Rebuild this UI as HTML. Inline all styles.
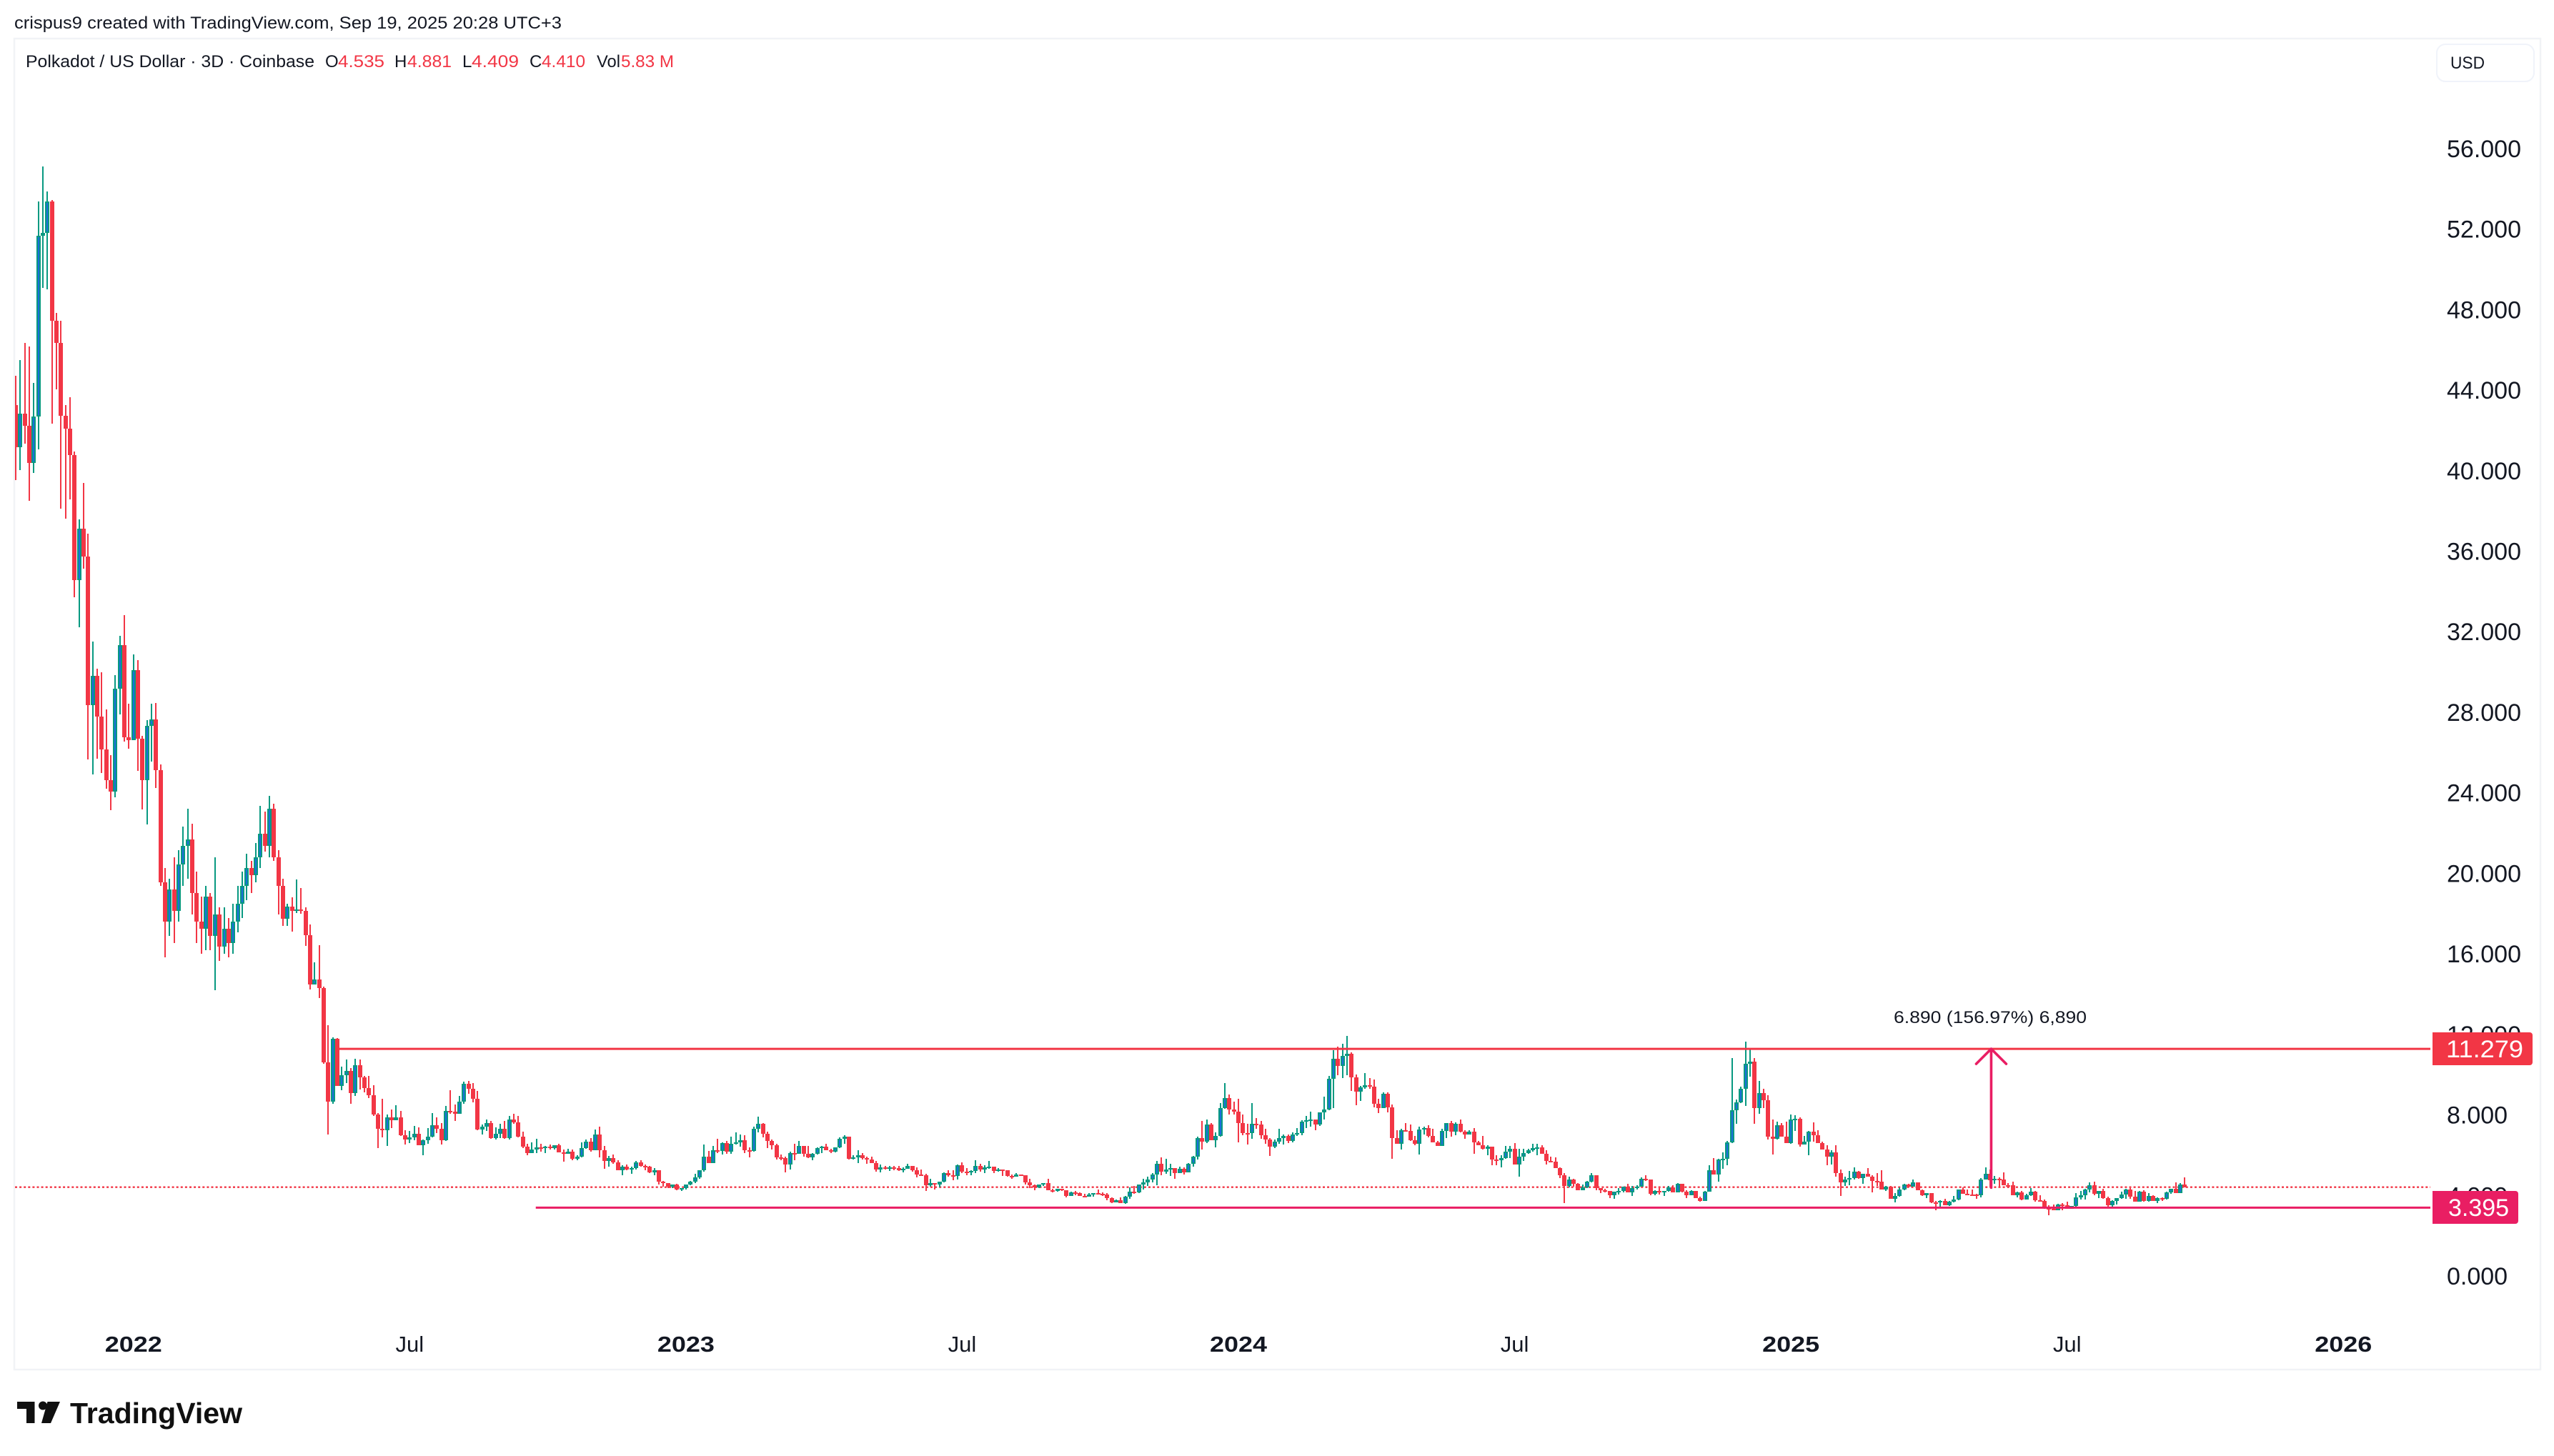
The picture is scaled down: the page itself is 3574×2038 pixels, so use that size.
<!DOCTYPE html>
<html lang="en">
<head>
<meta charset="utf-8">
<title>Polkadot / US Dollar chart</title>
<style>
html,body{margin:0;padding:0;background:#fff;width:3574px;height:2038px;overflow:hidden}
svg{display:block;font-family:"Liberation Sans",Arial,sans-serif}
</style>
</head>
<body>
<svg id="chart" xmlns="http://www.w3.org/2000/svg" width="3574" height="2038" viewBox="0 0 3574 2038">
<defs><clipPath id="plot-clip"><rect x="21" y="55" width="3380" height="1861"/></clipPath></defs>
<rect x="0" y="0" width="3574" height="2038" fill="#ffffff"/>
<text x="20" y="40" font-size="24" fill="#131722" textLength="766" lengthAdjust="spacingAndGlyphs">crispus9 created with TradingView.com, Sep 19, 2025 20:28 UTC+3</text>
<rect x="20" y="54" width="3535" height="1863" fill="none" stroke="#f1f3f6" stroke-width="2.5"/>

<g font-size="24">
<text x="36" y="94" fill="#131722" textLength="404" lengthAdjust="spacingAndGlyphs">Polkadot / US Dollar · 3D · Coinbase</text>
<text x="455" y="94" fill="#131722">O</text>
<text x="473" y="94" fill="#F23645" textLength="65" lengthAdjust="spacingAndGlyphs">4.535</text>
<text x="552" y="94" fill="#131722">H</text>
<text x="570" y="94" fill="#F23645" textLength="62" lengthAdjust="spacingAndGlyphs">4.881</text>
<text x="647" y="94" fill="#131722">L</text>
<text x="660" y="94" fill="#F23645" textLength="66" lengthAdjust="spacingAndGlyphs">4.409</text>
<text x="741" y="94" fill="#131722">C</text>
<text x="758" y="94" fill="#F23645" textLength="61" lengthAdjust="spacingAndGlyphs">4.410</text>
<text x="835" y="94" fill="#131722" textLength="33" lengthAdjust="spacingAndGlyphs">Vol</text>
<text x="869" y="94" fill="#F23645" textLength="74" lengthAdjust="spacingAndGlyphs">5.83 M</text>
</g>

<g>
<rect x="3410" y="62" width="136" height="52" rx="12" fill="#ffffff" stroke="#f0f3fa" stroke-width="2"/>
<text x="3429" y="96" font-size="24" fill="#131722" textLength="48" lengthAdjust="spacingAndGlyphs">USD</text>
</g>

<g id="price-axis"></g>
<g id="time-axis"></g>

<g id="plot" clip-path="url(#plot-clip)">
<line id="last-price-line" stroke="#F23645" stroke-width="2.4" stroke-dasharray="3 3.1"/>
<g id="candles" shape-rendering="crispEdges"></g>
<line id="resistance-line" stroke="#F23645" stroke-width="3"/>
<line id="support-line" stroke="#E91E63" stroke-width="3"/>
<g fill="none" stroke="#E91E63" stroke-width="3.6" stroke-linecap="round" stroke-linejoin="round">
<line id="arrow-shaft"/>
<polyline id="arrow-head"/>
</g>
</g>
<text x="2650" y="1432" font-size="24" fill="#131722" textLength="270" lengthAdjust="spacingAndGlyphs">6.890 (156.97%) 6,890</text>

<g>
<path d="M3404 1445H3540a4 4 0 0 1 4 4V1487a4 4 0 0 1 -4 4H3404Z" fill="#F23645"/>
<text x="3423" y="1480" font-size="34" fill="#ffffff" textLength="108" lengthAdjust="spacingAndGlyphs">11.279</text>
</g>
<g>
<path d="M3404 1667H3520a4 4 0 0 1 4 4V1709a4 4 0 0 1 -4 4H3404Z" fill="#E91E63"/>
<text x="3426" y="1702" font-size="34" fill="#ffffff">3.395</text>
</g>

<g fill="#101010">
<path d="M24 1962H48.5V1992H37V1972H24Z"/>
<circle cx="60" cy="1967.5" r="6"/>
<path d="M66.500 1962H84L71 1992H58Z"/>
<text x="98" y="1992" font-size="41" font-weight="700" textLength="241" lengthAdjust="spacingAndGlyphs">TradingView</text>
</g>
</svg>

<script>
const firstOpen = 43.26;
const closes = [
41.16,42.83,42.23,40.39,42.69,51.67,51.82,53.38,47.45,46.35,
42.73,42.09,40.78,34.57,37.12,35.74,28.36,29.81,27.79,26.16,
24.63,24.06,29.17,31.34,26.76,26.62,30.10,26.69,24.63,27.33,
27.65,25.13,19.55,17.60,19.20,18.14,20.44,21.36,21.68,19.02,
17.60,17.25,18.84,16.89,17.96,16.36,17.25,16.54,17.60,18.49,
19.38,20.26,19.91,20.80,21.97,21.36,23.21,20.80,19.38,17.75,
18.35,18.14,18.21,18.14,16.93,14.48,14.73,14.30,10.61,8.66,
11.78,9.44,9.97,10.19,9.09,10.47,9.87,9.33,8.98,8.02,
7.31,7.24,7.88,7.74,7.88,6.99,6.78,6.89,7.06,6.49,
6.74,6.92,7.49,7.31,6.74,8.20,8.16,8.06,8.66,9.55,
9.30,8.80,7.28,7.42,7.59,6.85,7.06,7.31,6.85,7.77,
7.63,6.92,6.42,6.10,6.28,6.39,6.35,6.42,6.35,6.49,
6.14,6.07,6.18,5.82,5.93,6.35,6.67,6.25,7.03,6.25,
5.71,5.86,5.64,5.25,5.43,5.29,5.36,5.64,5.47,5.44,
5.15,5.25,4.68,4.61,4.44,4.54,4.29,4.37,4.54,4.68,
4.90,5.25,5.93,5.61,6.25,6.21,6.60,6.18,6.57,6.64,
6.74,6.25,6.21,7.31,7.56,7.06,6.71,6.49,5.89,5.86,
5.54,6.10,6.07,6.46,6.07,5.89,6.07,6.35,6.42,6.25,
6.18,6.39,6.81,6.92,5.82,5.89,6.00,5.86,5.78,5.61,
5.29,5.39,5.32,5.39,5.36,5.25,5.32,5.47,5.25,5.04,
5.02,4.51,4.61,4.54,4.68,5.11,5.00,4.96,5.50,5.18,
5.15,5.22,5.47,5.29,5.39,5.43,5.22,5.29,5.25,4.97,
4.95,5.04,5.00,4.65,4.51,4.40,4.54,4.61,4.26,4.24,
4.33,4.26,3.97,4.15,4.12,3.97,3.95,4.05,4.12,4.08,
4.05,3.87,3.66,3.76,3.62,3.94,4.19,4.15,4.54,4.65,
4.79,5.04,5.57,5.18,5.29,5.36,5.11,5.32,5.15,5.57,
5.93,6.85,6.67,7.52,6.74,6.96,8.34,8.84,8.27,8.16,
7.59,7.10,7.08,7.56,7.52,6.99,6.78,6.42,6.67,6.85,
6.96,6.71,7.03,7.10,7.67,7.74,7.77,7.52,8.13,8.27,
9.80,10.79,10.43,10.93,11.04,9.87,9.16,9.37,9.48,9.40,
8.55,8.34,9.05,8.38,6.85,6.57,7.24,7.20,6.74,6.57,
7.28,7.35,6.96,6.64,6.46,7.20,7.59,7.17,7.56,7.17,
7.03,7.17,6.64,6.49,6.32,6.42,5.78,5.75,5.86,6.18,
6.32,5.54,5.93,6.10,6.25,6.35,6.39,6.07,5.71,5.69,
5.36,5.00,4.47,4.79,4.58,4.26,4.40,4.68,5.00,4.37,
4.26,4.24,4.01,4.19,4.22,4.44,4.15,4.37,4.44,4.83,
4.79,4.08,4.22,4.15,4.22,4.40,4.15,4.58,4.19,4.01,
4.22,3.87,3.73,4.19,5.25,5.04,5.78,5.82,6.64,8.23,
8.62,9.30,10.54,10.65,8.34,9.09,8.73,6.92,6.81,7.49,
6.92,6.60,7.77,7.81,6.53,6.67,7.17,6.99,6.60,6.28,
5.93,6.14,5.11,4.65,4.79,4.86,5.18,4.86,5.07,4.93,
4.72,4.68,4.29,4.44,3.83,3.97,4.29,4.54,4.44,4.65,
4.26,4.01,4.12,3.66,3.64,3.73,3.51,3.69,3.80,4.29,
4.08,4.06,4.04,4.01,4.79,5.07,4.76,4.83,4.79,4.51,
4.49,4.01,4.15,3.80,4.01,4.19,3.76,3.74,3.37,3.35,
3.27,3.55,3.53,3.34,3.48,3.90,4.01,4.29,4.51,4.08,
4.22,3.87,3.51,3.73,3.87,4.05,4.29,3.94,3.69,4.19,
3.73,3.97,3.73,3.87,3.83,4.15,4.33,4.12,4.54,4.41];
const highs = [
44.71,45.50,46.35,46.17,44.36,53.38,55.12,53.87,53.45,47.84,
47.45,43.26,43.65,40.96,37.58,39.39,36.87,31.51,30.17,29.99,
28.14,25.87,29.85,31.80,32.83,28.43,30.88,30.59,26.83,27.61,
28.43,28.46,25.41,20.26,19.73,20.80,21.15,22.32,23.21,22.46,
20.09,18.84,19.38,19.02,20.80,18.31,18.31,17.78,18.49,19.38,
20.09,20.97,20.62,21.51,23.35,23.07,23.85,23.46,21.15,19.73,
18.49,18.81,19.70,19.27,18.31,17.46,15.58,16.43,14.37,12.46,
11.85,11.82,10.40,10.75,10.33,10.79,10.75,9.94,9.94,9.48,
8.09,8.80,8.02,8.27,8.48,8.20,7.24,7.20,7.45,7.38,
6.78,7.35,8.09,7.88,7.59,8.45,9.23,8.52,8.94,9.65,
9.69,9.58,9.19,7.52,7.77,7.70,7.38,7.56,7.70,7.95,
8.06,7.95,7.17,6.57,6.64,6.81,6.57,6.45,6.53,6.49,
6.57,6.28,6.32,6.28,6.00,6.64,6.78,6.85,7.28,7.42,
6.46,5.96,6.03,5.75,5.50,5.54,5.43,5.71,5.75,5.54,
5.47,5.36,5.25,4.72,4.61,4.54,4.58,4.37,4.54,4.72,
5.07,5.25,6.53,6.21,6.46,6.81,6.64,6.71,6.92,7.13,
7.03,6.99,6.39,7.42,7.91,7.59,7.17,6.78,6.57,6.03,
5.93,6.18,6.57,6.71,6.46,6.46,6.10,6.39,6.46,6.57,
6.32,6.39,6.89,6.99,6.92,6.00,6.25,6.10,5.93,5.93,
5.71,5.54,5.47,5.47,5.47,5.47,5.39,5.57,5.47,5.39,
5.29,5.07,4.83,4.61,4.68,5.15,5.25,5.25,5.54,5.64,
5.36,5.25,5.75,5.57,5.50,5.71,5.43,5.36,5.29,5.25,
5.04,5.11,5.04,5.00,4.83,4.54,4.54,4.61,4.83,4.33,
4.33,4.33,4.26,4.19,4.22,4.15,4.08,4.12,4.12,4.29,
4.15,4.12,3.90,3.80,3.90,3.97,4.40,4.47,4.54,4.83,
4.93,5.11,5.71,5.89,5.82,5.57,5.32,5.43,5.39,5.61,
5.96,6.92,7.70,7.77,7.59,7.13,8.59,9.58,9.01,8.66,
8.80,8.02,7.56,8.59,7.84,7.70,7.31,6.85,6.78,7.31,
7.03,7.03,7.13,7.35,7.74,7.95,8.16,7.74,8.13,8.91,
9.94,11.21,11.39,11.53,11.92,11.11,10.01,9.44,10.08,9.83,
9.76,8.80,9.12,9.12,8.52,7.24,7.31,7.59,7.52,6.96,
7.42,7.42,7.49,7.31,6.71,7.31,7.59,7.70,7.63,7.77,
7.24,7.24,7.35,6.71,6.96,6.49,6.42,6.00,6.00,6.46,
6.46,6.60,6.32,6.32,6.32,6.57,6.57,6.49,6.25,5.93,
5.89,5.39,5.11,4.93,4.83,4.61,4.54,4.72,5.11,5.00,
4.37,4.33,4.22,4.19,4.37,4.44,4.58,4.47,4.51,4.90,
5.00,4.79,4.26,4.37,4.22,4.47,4.51,4.61,4.58,4.26,
4.26,4.19,3.94,4.22,5.50,5.86,5.82,6.14,6.71,10.82,
8.77,9.40,11.64,11.25,10.82,9.69,9.30,8.98,7.77,7.67,
7.59,7.67,8.02,7.98,7.88,6.96,7.20,7.63,7.24,6.67,
6.49,6.25,6.49,5.29,4.93,5.22,5.39,5.22,5.07,5.36,
5.00,5.11,5.25,4.47,4.47,4.12,4.40,4.58,4.58,4.79,
4.65,4.29,4.12,4.12,3.73,3.76,3.83,3.73,3.97,4.29,
4.40,4.29,4.29,4.08,4.86,5.39,5.29,4.97,4.90,5.15,
4.61,4.68,4.19,4.22,4.08,4.37,4.22,4.01,3.80,3.51,
3.55,3.58,3.62,3.69,3.48,4.12,4.22,4.33,4.65,4.68,
4.22,4.33,3.94,3.76,3.87,4.19,4.33,4.37,4.22,4.22,
4.26,4.12,4.01,3.90,3.90,4.19,4.33,4.65,4.61,4.881];
const lows = [
39.53,40.03,41.34,38.51,39.89,41.06,49.08,49.01,42.34,44.04,
38.12,37.62,38.58,33.72,32.22,35.14,25.66,24.91,25.69,24.98,
24.20,23.14,23.78,27.90,26.55,26.19,26.62,25.09,23.17,22.43,
25.55,24.24,19.38,15.83,16.89,16.54,17.60,19.38,19.73,17.96,
16.54,16.01,16.18,16.18,14.20,15.65,16.01,15.83,16.01,17.07,
17.78,18.67,19.02,19.55,20.26,21.08,20.80,20.62,17.96,17.39,
17.39,17.11,18.03,17.99,16.40,14.23,14.48,13.81,10.54,7.03,
8.55,9.44,9.23,9.58,8.55,8.94,9.26,9.12,8.84,7.95,
6.35,6.89,6.46,7.35,7.74,6.96,6.53,6.60,6.74,6.49,
6.00,6.57,6.89,7.10,6.53,6.71,8.06,7.70,8.06,8.55,
9.05,8.62,7.24,7.03,7.20,6.81,6.78,6.85,6.81,6.78,
7.56,6.89,6.35,6.00,6.10,6.10,6.18,6.10,6.28,6.28,
6.14,5.68,6.07,5.75,5.75,5.89,6.32,6.18,6.25,5.89,
5.32,5.43,5.57,5.25,5.00,5.25,5.07,5.29,5.43,5.25,
5.11,5.00,4.54,4.44,4.37,4.37,4.26,4.22,4.29,4.51,
4.61,4.83,5.18,5.61,5.61,6.10,6.03,6.07,6.07,6.53,
6.42,6.10,5.89,6.18,7.13,6.89,6.35,6.28,5.78,5.75,
5.15,5.29,5.75,6.07,5.93,5.86,5.75,6.03,6.10,6.25,
6.10,6.14,6.35,6.57,5.78,5.78,5.61,5.78,5.57,5.61,
5.18,5.15,5.29,5.22,5.25,5.22,5.15,5.32,5.18,4.90,
5.00,4.22,4.44,4.29,4.40,4.65,4.93,4.76,4.79,5.11,
5.00,5.00,5.11,5.18,5.11,5.32,5.11,5.18,4.97,4.93,
4.83,4.93,5.00,4.54,4.37,4.26,4.37,4.47,4.26,4.15,
4.19,4.22,3.90,3.97,4.01,3.97,3.95,3.95,3.95,4.05,
3.97,3.76,3.62,3.66,3.62,3.58,3.83,4.08,4.12,4.29,
4.47,4.65,4.51,5.00,5.07,4.97,4.83,5.11,5.04,5.15,
5.43,5.78,6.28,6.60,6.74,6.39,6.92,8.30,8.02,8.02,
6.64,6.99,6.53,6.81,7.31,6.81,6.57,5.96,6.35,6.57,
6.53,6.60,6.64,6.96,6.99,7.35,7.42,7.24,7.45,7.77,
8.23,8.34,9.97,9.83,9.97,9.19,8.48,8.69,9.30,9.30,
8.38,8.09,8.34,8.13,5.82,6.57,6.28,7.20,6.71,6.49,
6.03,7.03,6.89,6.64,6.46,6.46,6.85,6.92,6.99,7.13,
6.81,7.03,6.07,6.49,6.28,6.00,5.50,5.50,5.39,5.82,
5.86,5.54,4.93,5.71,6.07,6.18,6.00,6.07,5.54,5.64,
5.36,4.86,3.62,4.40,4.44,4.26,4.26,4.37,4.65,4.26,
4.12,4.15,3.87,3.83,4.05,4.15,4.15,3.97,4.29,4.44,
4.72,4.01,4.01,4.05,3.97,4.19,4.15,4.15,4.15,3.87,
4.01,3.87,3.69,3.73,4.19,5.04,4.68,5.32,5.50,6.60,
7.56,8.59,8.45,9.90,7.56,8.06,8.34,6.78,6.03,6.78,
6.92,6.60,6.57,7.20,6.42,6.53,6.00,6.67,6.60,6.28,
5.50,5.54,4.93,3.97,4.47,4.51,4.79,4.83,4.58,4.93,
4.15,4.47,4.29,4.22,3.83,3.66,3.94,4.26,4.40,4.44,
4.26,3.97,3.87,3.62,3.27,3.41,3.51,3.48,3.66,3.76,
4.08,4.01,4.01,3.83,3.90,4.79,4.40,4.58,4.44,4.51,
4.37,4.01,3.90,3.76,3.80,3.97,3.69,3.69,3.34,3.02,
3.27,3.27,3.27,3.34,3.34,3.44,3.80,3.80,4.15,4.01,
3.87,3.83,3.41,3.44,3.55,3.83,3.83,3.83,3.69,3.69,
3.69,3.69,3.73,3.62,3.73,3.80,4.08,4.12,4.12,4.409];
const priceTickValues = [0,4,8,12,16,20,24,28,32,36,40,44,48,52,56];
const timeTickLabels = ["2022","Jul","2023","Jul","2024","Jul","2025","Jul","2026"];
const timeTickBars = [26,87,148,209,270,331,392,453,514];
const timeTickMajor = [true,false,true,false,true,false,true,false,true];
const resistancePrice = 11.279;
const supportPrice = 3.395;
const lastPrice = 4.41;
const resistanceStartBar = 71;
const supportStartBar = 115;
const arrowBar = 436;
const arrowFromPrice = 4.389;
const arrowToPrice = 11.279;

const SVG_NS = "http://www.w3.org/2000/svg";
const GREEN = "#089981", RED = "#F23645", BLUE = "#1c6edb";
function yScale(price){ return 1786 - price * 28.18; }
function xScale(bar){ return 22 + 6.337 * bar; }
function make(tag, parent){ const el = document.createElementNS(SVG_NS, tag); parent.appendChild(el); return el; }
function setAttrs(el, attrs){ for (const k in attrs) el.setAttribute(k, attrs[k]); }

const priceAxis = document.getElementById("price-axis");
priceTickValues.forEach(function(value){
  const t = make("text", priceAxis);
  
  
  setAttrs(t, {x: 3424, y: yScale(value) + 12, "font-size": 34, fill: "#131722"});
  t.textContent = value.toFixed(3);
});

const timeAxis = document.getElementById("time-axis");
timeTickLabels.forEach(function(label, i){
  const t = make("text", timeAxis);
  
  
  setAttrs(t, {x: xScale(timeTickBars[i]), y: 1892, "text-anchor": "middle", "font-size": 31, fill: "#131722", "font-weight": timeTickMajor[i] ? 700 : 400});
  if (timeTickMajor[i]) {
    t.setAttribute("textLength", "80");
    t.setAttribute("lengthAdjust", "spacingAndGlyphs");
  }
  t.textContent = label;
});

setAttrs(document.getElementById("last-price-line"), {x1: 21, x2: 3402, y1: yScale(lastPrice), y2: yScale(lastPrice)});
setAttrs(document.getElementById("resistance-line"), {x1: xScale(resistanceStartBar) + 3, x2: 3402, y1: yScale(resistancePrice), y2: yScale(resistancePrice)});
setAttrs(document.getElementById("support-line"), {x1: xScale(supportStartBar) - 1, x2: 3402, y1: yScale(supportPrice), y2: yScale(supportPrice)});

const ax = xScale(arrowBar) + 1.5, ay0 = yScale(arrowFromPrice), ay1 = yScale(arrowToPrice);
setAttrs(document.getElementById("arrow-shaft"), {x1: ax, x2: ax, y1: ay0, y2: ay1});
document.getElementById("arrow-head").setAttribute("points", (ax - 21) + "," + (ay1 + 21) + " " + ax + "," + ay1 + " " + (ax + 21) + "," + (ay1 + 21));

const candles = document.getElementById("candles");
closes.forEach(function(close, i){
  const open = i === 0 ? firstOpen : closes[i - 1];
  const up = close >= open;
  const color = up ? GREEN : RED;
  const cx = Math.round(xScale(i));
  const yHigh = Math.round(yScale(highs[i]));
  const yLow = Math.round(yScale(lows[i]));
  const yTop = Math.round(yScale(Math.max(open, close)));
  const yBot = Math.max(yTop + 2, Math.round(yScale(Math.min(open, close))));
  const g = make("g", candles);
  
  
  const wick = make("rect", g);
  
  
  setAttrs(wick, {x: cx - 1, y: yHigh, width: 2, height: Math.max(yLow - yHigh, 1), fill: color});
  const body = make("rect", g);
  
  
  setAttrs(body, {x: cx - 3, y: yTop, width: 6, height: yBot - yTop, fill: color});
  if (up && yBot - yTop > 4) {
    const inner = make("rect", g);
    
    
    setAttrs(inner, {x: cx - 1, y: yTop + 2, width: 2, height: yBot - yTop - 4, fill: BLUE});
  }
});
</script>
</body>
</html>
